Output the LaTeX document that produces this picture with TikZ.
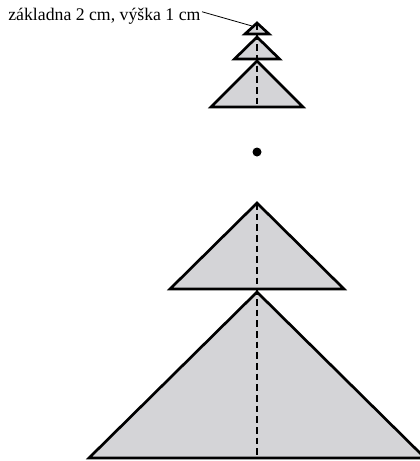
\documentclass[tikz,border=0pt]{standalone}
\usepackage{fontspec}
\setmainfont{Liberation Serif}
\definecolor{treegray}{RGB}{212,212,215}
\tikzset{
  tri/.style={draw, line width=2pt, fill=treegray, line join=miter},
  axis/.style={draw, line width=0.8pt, dashed, dash pattern=on 5pt off 3pt},
}
\begin{document}
\begin{tikzpicture}[x=0.75pt, y=-0.75pt]
\useasboundingbox (0,0) rectangle (420,461);
% triangles: apex y / half base / base y
\foreach \ay/\hw/\by in {23/12/34, 37/22.5/59, 61/46/107, 203/87/289, 292/168/458}
  \draw[tri] (257,\ay) -- (257-\hw,\by) -- (257+\hw,\by) -- cycle;
\draw[axis] (257,23) -- (257,107);
\draw[axis] (257,203) -- (257,458);
\fill (257,152) circle (4.5);
\node[anchor=base east, inner sep=1pt, font=\fontsize{13.3}{15}\selectfont] (lbl) at (202,20) {základna 2 cm, výška 1 cm};
\coordinate (top) at (252,26);
\draw[line width=0.6pt] (lbl.east) ++(0,-4) coordinate (lend) -- (top);
\end{tikzpicture}
\end{document}
